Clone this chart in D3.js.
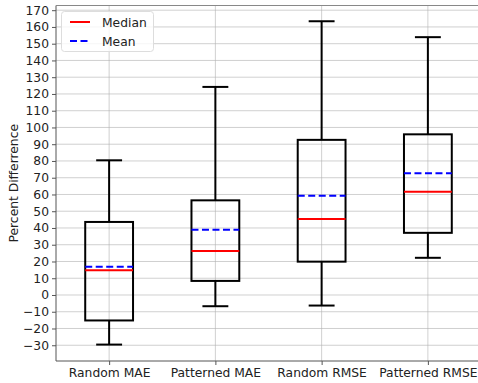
<!DOCTYPE html>
<html><head><meta charset="utf-8">
<script src="https://cdn.jsdelivr.net/npm/d3@7"></script>
<style>body{margin:0;background:#fff}svg{display:block}text{font-family:"DejaVu Sans",sans-serif}</style>
</head><body>
<svg id="c" width="478" height="383"></svg>
<script>
const categories = ["Random MAE", "Patterned MAE", "Random RMSE", "Patterned RMSE"];
const whiskerLow  = [-29.6, -6.7, -6.3, 22.2];
const q1          = [-15.2, 8.4, 19.9, 37.1];
const medians     = [14.7, 26.3, 45.4, 61.6];
const means       = [16.8, 39.0, 59.2, 72.7];
const q3          = [43.6, 56.5, 92.6, 95.9];
const whiskerHigh = [80.4, 124.2, 163.4, 153.9];
const yTicks = d3.range(-30, 171, 10);

const FS = 12.3;
const svg = d3.select("#c");
const L = 56, R = 481, T = 5.5, B = 361;
const x = d3.scaleLinear().domain([0.5, 4.5]).range([L, R]);
const y = d3.scaleLinear().domain([-39.4, 172.8]).range([B, T]);
const boxW = x(1.45) - x(1);
const capW = boxW / 2 + 2;

// grid
const g = svg.append("g");
g.selectAll(".hg").data(yTicks).join("line")
  .attr("x1", L).attr("x2", R).attr("y1", d => y(d)).attr("y2", d => y(d))
  .attr("stroke", "#b0b0b0").attr("stroke-opacity", 0.6).attr("stroke-width", 1);
g.selectAll(".vg").data(categories).join("line")
  .attr("x1", (d, i) => x(i + 1)).attr("x2", (d, i) => x(i + 1)).attr("y1", T).attr("y2", B)
  .attr("stroke", "#b0b0b0").attr("stroke-opacity", 0.6).attr("stroke-width", 1);

// axes
const yAxis = svg.append("g").attr("transform", `translate(${L},0)`)
  .call(d3.axisLeft(y).tickValues(yTicks).tickSize(4).tickPadding(3).tickFormat(d => d < 0 ? "\u2212" + Math.abs(d) : d));
const xAxis = svg.append("g").attr("transform", `translate(0,${B})`)
  .call(d3.axisBottom(x).tickValues([1, 2, 3, 4]).tickSize(4).tickPadding(3).tickFormat((d) => categories[d - 1]));
[yAxis, xAxis].forEach(a => {
  a.select(".domain").remove();
  a.selectAll("line").attr("stroke", "#555");
  a.selectAll("text").attr("font-size", FS).attr("fill", "#222");
});
// spines
svg.append("line").attr("x1", L).attr("x2", L).attr("y1", T).attr("y2", B).attr("stroke", "#555").attr("stroke-width", 1);
svg.append("line").attr("x1", L).attr("x2", R).attr("y1", B).attr("y2", B).attr("stroke", "#555").attr("stroke-width", 1);
svg.append("line").attr("x1", L).attr("x2", R).attr("y1", T).attr("y2", T).attr("stroke", "#888").attr("stroke-width", 1);

// boxes
const bx = svg.append("g");
categories.forEach((c, i) => {
  const cx = x(i + 1);
  bx.append("line").attr("x1", cx).attr("x2", cx).attr("y1", y(whiskerLow[i])).attr("y2", y(q1[i])).attr("stroke", "#000").attr("stroke-width", 2);
  bx.append("line").attr("x1", cx).attr("x2", cx).attr("y1", y(q3[i])).attr("y2", y(whiskerHigh[i])).attr("stroke", "#000").attr("stroke-width", 2);
  bx.append("line").attr("x1", cx - capW / 2).attr("x2", cx + capW / 2).attr("y1", y(whiskerLow[i])).attr("y2", y(whiskerLow[i])).attr("stroke", "#000").attr("stroke-width", 2);
  bx.append("line").attr("x1", cx - capW / 2).attr("x2", cx + capW / 2).attr("y1", y(whiskerHigh[i])).attr("y2", y(whiskerHigh[i])).attr("stroke", "#000").attr("stroke-width", 2);
  bx.append("rect").attr("x", cx - boxW / 2).attr("width", boxW).attr("y", y(q3[i])).attr("height", y(q1[i]) - y(q3[i]))
    .attr("fill", "none").attr("stroke", "#000").attr("stroke-width", 2);
  bx.append("line").attr("x1", cx - boxW / 2).attr("x2", cx + boxW / 2).attr("y1", y(medians[i])).attr("y2", y(medians[i])).attr("stroke", "red").attr("stroke-width", 2);
  bx.append("line").attr("x1", cx - boxW / 2).attr("x2", cx + boxW / 2).attr("y1", y(means[i])).attr("y2", y(means[i])).attr("stroke", "blue").attr("stroke-width", 2).attr("stroke-dasharray", "7,3.5");
});

// legend
const lg = svg.append("g");
lg.append("rect").attr("x", 61.5).attr("y", 11.5).attr("width", 92).attr("height", 40).attr("rx", 3)
  .attr("fill", "#fff").attr("fill-opacity", 0.8).attr("stroke", "#ddd");
lg.append("line").attr("x1", 70).attr("x2", 90).attr("y1", 22).attr("y2", 22).attr("stroke", "red").attr("stroke-width", 2);
lg.append("line").attr("x1", 70).attr("x2", 90).attr("y1", 41).attr("y2", 41).attr("stroke", "blue").attr("stroke-width", 2).attr("stroke-dasharray", "7,3.5");
lg.append("text").attr("x", 102).attr("y", 26.5).attr("font-size", FS).attr("fill", "#222").text("Median");
lg.append("text").attr("x", 102).attr("y", 45.5).attr("font-size", FS).attr("fill", "#222").text("Mean");

// y label
svg.append("text").attr("transform", `translate(18,${(T + B) / 2}) rotate(-90)`).attr("text-anchor", "middle")
  .attr("font-size", FS).attr("fill", "#222").text("Percent Differrence");
</script>
</body></html>
